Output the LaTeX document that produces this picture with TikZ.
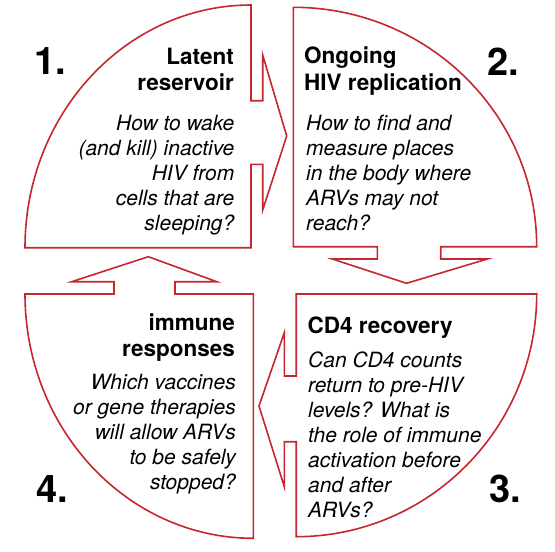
\documentclass[tikz,border=0pt]{standalone}
\usepackage{fontspec}
\setmainfont{TeX Gyre Heros}
\definecolor{hivred}{RGB}{197,39,45}

\begin{document}
\begin{tikzpicture}[x=1pt, y=1pt,
  quarter/.style={draw=hivred, line width=1.6pt, line join=miter},
  title/.style={font=\fontsize{22.5}{26.5}\selectfont\bfseries, inner sep=0pt},
  question/.style={font=\fontsize{21}{25}\selectfont\itshape, inner sep=0pt},
  number/.style={font=\fontsize{38}{38}\selectfont\bfseries, inner sep=0pt, anchor=base west}]
\useasboundingbox (0,0) rectangle (555,-552);

% the four quarters, each with its arrow
\draw [quarter] (25,-247.7) arc [start angle=180, end angle=90, x radius=226, y radius=242.7]
  -- (251,-100.7) -- (262.7,-100.7) -- (262.7,-55) -- (286.7,-136) -- (262.7,-210)
  -- (262.7,-164.3) -- (251,-164.3) -- (251,-247.7) -- cycle;
\draw [quarter] (293.3,-7.3) arc [start angle=90, end angle=0, x radius=243.4, y radius=239.4]
  -- (440.7,-246.7) -- (440.7,-259) -- (487.3,-259) -- (406.5,-283.3) -- (332.3,-259)
  -- (377.3,-259) -- (377.3,-246.7) -- (293.3,-246.7) -- cycle;
\draw [quarter] (296.2,-294) -- (536.7,-294) arc [start angle=0, end angle=-90, x radius=240.5, y radius=242.7]
  -- (296.2,-441.7) -- (284.3,-441.7) -- (284.3,-486.7) -- (259,-406) -- (284.3,-332.7)
  -- (284.3,-376) -- (296.2,-376) -- cycle;
\draw [quarter] (253.3,-538.3) arc [start angle=270, end angle=180, x radius=228.3, y radius=244.3]
  -- (114,-294) -- (114,-281.7) -- (71.7,-281.7) -- (148.3,-256.7) -- (216.7,-281.7)
  -- (175,-281.7) -- (175,-294) -- (253.3,-294) -- cycle;

\node (n1) [number] at (34,-74) {1.};
\node (n2) [number] at (487,-75) {2.};
\node (n3) [number] at (489,-502) {3.};
\node (n4) [number] at (36,-502) {4.};

% anchors sit on the last line of each text
\node (t1) [title, anchor=base east, align=right] at (234,-90.5) {Latent\\reservoir};
\node (q1) [question, anchor=base east, align=right] at (234.5,-230) {How to wake\\(and kill) inactive\\HIV from\\cells that are\\sleeping?};
\node (t2) [title, anchor=base west, align=left] at (304,-90) {Ongoing\\HIV replication};
\node (q2) [question, anchor=base west, align=left] at (306,-230) {How to find and\\measure places\\in the body where\\ARVs may not\\reach?};
\node (t3) [title, anchor=base west, align=left] at (307.5,-333.3) {CD4 recovery};
\node (q3) [question, anchor=base west, align=left] at (308,-517.3) {Can CD4 counts\\return to pre-HIV\\levels? What is\\the role of immune\\activation before\\and after\\ARVs?};
\node (t4) [title, anchor=base east, align=right] at (235,-356.5) {immune\\responses};
\node (q4) [question, anchor=base east, align=right] at (236,-489.3) {Which vaccines\\or gene therapies\\will allow ARVs\\to be safely\\stopped?};
\end{tikzpicture}
\end{document}
